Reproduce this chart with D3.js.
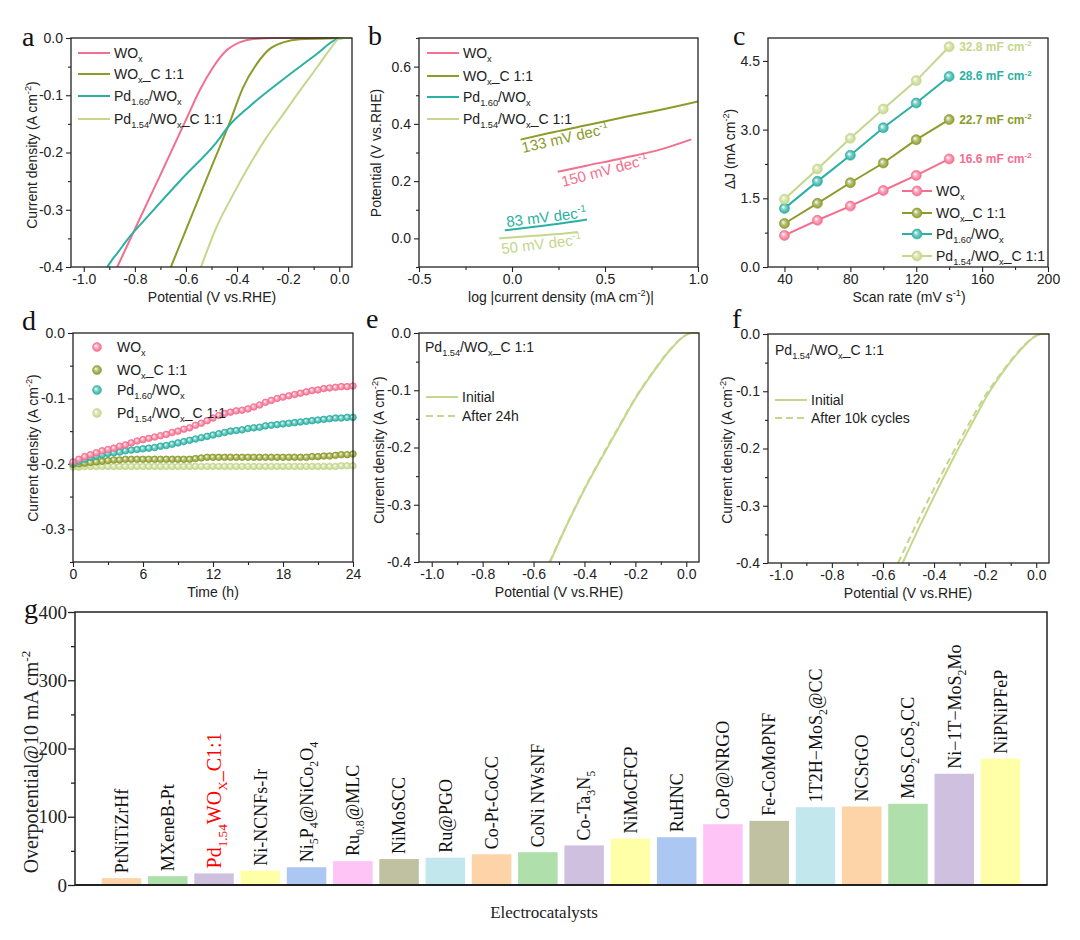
<!DOCTYPE html>
<html><head><meta charset="utf-8">
<script src="https://cdn.jsdelivr.net/npm/d3@7"></script>
<style>body{margin:0;background:#fff}</style>
</head><body>
<script>
// ---------------- DATA ----------------
const seriesNames = ["WO~{x}", "WO~{x}_C 1:1", "Pd~{1.60}/WO~{x}", "Pd~{1.54}/WO~{x}_C 1:1"];
// panel a : LSV  [potential V, current A cm-2]
const aWOx   = [[-0.869,-0.4],[-0.8,-0.334],[-0.7,-0.239],[-0.6,-0.143],[-0.547,-0.092],[-0.495,-0.052],[-0.442,-0.022],[-0.39,-0.0076],[-0.337,-0.0018],[-0.25,0],[0.05,0]];
const aWOxC  = [[-0.659,-0.4],[-0.6,-0.335],[-0.55,-0.28],[-0.5,-0.225],[-0.429,-0.148],[-0.377,-0.087],[-0.324,-0.046],[-0.272,-0.019],[-0.219,-0.0076],[-0.154,-0.002],[-0.02,-0.0005],[0.05,0]];
const aPd160 = [[-0.908,-0.4],[-0.885,-0.385],[-0.862,-0.372],[-0.836,-0.356],[-0.744,-0.309],[-0.613,-0.2445],[-0.482,-0.183],[-0.429,-0.152],[-0.35,-0.119],[-0.219,-0.072],[-0.088,-0.028],[-0.009,-0.002],[0.02,0],[0.05,0]];
const aPd154 = [[-0.541,-0.4],[-0.482,-0.332],[-0.416,-0.274],[-0.35,-0.221],[-0.285,-0.174],[-0.219,-0.133],[-0.154,-0.092],[-0.088,-0.052],[-0.035,-0.019],[-0.003,-0.002],[0.02,0],[0.05,0]];
// panel b : Tafel [log j, potential]
const bWOx   = [[0.246,0.233],[0.4,0.254],[0.6,0.281],[0.8,0.311],[0.964,0.346]];
const bWOxC  = [[0.046,0.345],[0.2,0.368],[0.4,0.395],[0.6,0.423],[0.8,0.449],[1.0,0.478]];
const bPd160 = [[-0.039,0.028],[0.1,0.039],[0.25,0.051],[0.403,0.066]];
const bPd154 = [[-0.07,0.0],[0.1,0.008],[0.25,0.015],[0.353,0.022]];
const tafelLabels = ["150 mV dec^{-1}", "133 mV dec^{-1}", "83 mV dec^{-1}", "50 mV dec^{-1}"];
// panel c : Cdl
const cScan  = [40, 60, 80, 100, 120, 140];
const cWOx   = [0.69, 1.02, 1.33, 1.67, 2.00, 2.36];
const cWOxC  = [0.95, 1.39, 1.84, 2.27, 2.78, 3.22];
const cPd160 = [1.28, 1.87, 2.44, 3.04, 3.58, 4.16];
const cPd154 = [1.48, 2.14, 2.81, 3.45, 4.07, 4.81];
const cdlLabels = ["16.6 mF cm^{-2}", "22.7 mF cm^{-2}", "28.6 mF cm^{-2}", "32.8 mF cm^{-2}"];
// panel d : stability (time h, current A cm-2)
const dTime  = [0,0.5,1,1.5,2,2.5,3,3.5,4,4.5,5,5.5,6,6.5,7,7.5,8,8.5,9,9.5,10,10.5,11,11.5,12,12.5,13,13.5,14,14.5,15,15.5,16,16.5,17,17.5,18,18.5,19,19.5,20,20.5,21,21.5,22,22.5,23,23.5,24];
const dWOx   = [-0.197,-0.193,-0.189,-0.186,-0.183,-0.180,-0.178,-0.176,-0.173,-0.171,-0.168,-0.165,-0.163,-0.161,-0.159,-0.157,-0.155,-0.152,-0.150,-0.147,-0.145,-0.141,-0.138,-0.134,-0.130,-0.126,-0.123,-0.121,-0.119,-0.118,-0.116,-0.113,-0.110,-0.106,-0.103,-0.100,-0.098,-0.096,-0.094,-0.092,-0.090,-0.088,-0.087,-0.085,-0.084,-0.083,-0.082,-0.082,-0.081];
const dWOxC  = [-0.201,-0.200,-0.199,-0.198,-0.197,-0.196,-0.195,-0.194,-0.194,-0.193,
                -0.193,-0.193,-0.193,-0.193,-0.193,-0.193,-0.193,-0.193,-0.193,-0.193,-0.193,
                -0.192,-0.191,
                -0.190,-0.190,-0.190,-0.190,-0.190,-0.190,-0.190,-0.190,-0.190,-0.190,-0.190,-0.190,-0.190,-0.190,-0.190,-0.190,-0.190,-0.190,
                -0.189,-0.189,-0.188,-0.188,-0.187,-0.186,-0.186,-0.185];
const dPd160 = [-0.199,-0.196,-0.193,-0.190,-0.188,-0.186,-0.184,-0.183,-0.182,-0.180,-0.179,-0.178,-0.177,-0.176,-0.175,-0.173,-0.172,-0.170,-0.168,-0.166,-0.164,-0.162,-0.160,-0.158,-0.156,-0.154,-0.152,-0.150,-0.149,-0.148,-0.146,-0.145,-0.144,-0.142,-0.141,-0.140,-0.139,-0.138,-0.137,-0.136,-0.135,-0.134,-0.133,-0.132,-0.131,-0.130,-0.130,-0.129,-0.129];
const dPd154 = [-0.205,-0.205,-0.204,-0.204,-0.204,-0.204,-0.204,-0.204,-0.204,-0.204,-0.204,-0.204,-0.204,-0.204,-0.204,-0.204,-0.204,-0.204,-0.204,-0.204,-0.204,-0.204,-0.204,-0.204,-0.204,-0.204,-0.204,-0.204,-0.204,-0.204,-0.204,-0.204,-0.204,-0.204,-0.204,-0.204,-0.204,-0.204,-0.204,-0.204,-0.204,-0.204,-0.204,-0.204,-0.204,-0.204,-0.203,-0.203,-0.203];
// panel e : before / after 24 h
const eInitial = [[-0.535,-0.4],[-0.457,-0.324],[-0.391,-0.2655],[-0.326,-0.213],[-0.26,-0.161],[-0.195,-0.111],[-0.129,-0.068],[-0.064,-0.03],[-0.011,-0.0065],[0.02,0],[0.05,0]];
const eAfter   = [[-0.537,-0.4],[-0.46,-0.326],[-0.393,-0.266],[-0.327,-0.212],[-0.262,-0.161],[-0.197,-0.111],[-0.131,-0.068],[-0.066,-0.03],[-0.012,-0.0065],[0.02,0],[0.05,0]];
// panel f : before / after 10k cycles
const fInitial = [[-0.523,-0.4],[-0.45,-0.33],[-0.38,-0.266],[-0.32,-0.213],[-0.25,-0.155],[-0.19,-0.106],[-0.125,-0.063],[-0.06,-0.027],[-0.01,-0.006],[0.02,0],[0.05,0]];
const fAfter   = [[-0.541,-0.4],[-0.47,-0.333],[-0.4,-0.27],[-0.335,-0.215],[-0.265,-0.158],[-0.2,-0.108],[-0.13,-0.064],[-0.065,-0.028],[-0.012,-0.006],[0.02,0],[0.05,0]];
// panel g : overpotential comparison
const gNames  = ["PtNiTiZrHf","MXeneB-Pt","Pd~{1.54}WO~{X}_C1:1","Ni-NCNFs-Ir","Ni~{5}P~{4}@NiCo~{2}O~{4}","Ru~{0.8}@MLC","NiMoSCC","Ru@PGO","Co-Pt-CoCC","CoNi NWsNF","Co-Ta~{3}N~{5}","NiMoCFCP","RuHNC","CoP@NRGO","Fe-CoMoPNF","1T2H\u2212MoS~{2}@CC","NCSrGO","MoS~{2}CoS~{2}CC","Ni\u22121T\u2212MoS~{2}Mo","NiPNiPFeP"];
const gValues = [10, 13, 17, 21, 26, 35, 38, 40, 45, 48, 58, 68, 70, 89, 94, 114, 115, 119, 163, 185];
const gColors = ["#fdd3a8","#afdfab","#cfc0df","#ffffa8","#abc7f2","#ffc4f6","#c0c1a1","#c2e8ee"];
const gTicks  = [0,100,200,300,400];
const gMinor  = [50,150,250,350];

// ---------------- SETUP ----------------
const W=1080, H=940;
const SANS="'Liberation Sans', Arial, sans-serif";
const SERIF="'Liberation Serif', 'Times New Roman', serif";
const COL={pink:"#f36f8f", olive:"#8c9b2a", teal:"#2bb0a3", light:"#c4d78b"};
const colList=[COL.pink,COL.olive,COL.teal,COL.light];
const svg=d3.select("body").append("svg").attr("width",W).attr("height",H).style("background","#fff");
const defs=svg.append("defs");
Object.entries(COL).forEach(([k,c])=>{
  const g=defs.append("radialGradient").attr("id","ball-"+k).attr("cx","50%").attr("cy","50%").attr("r","50%").attr("fx","35%").attr("fy","35%");
  g.append("stop").attr("offset","0%").attr("stop-color","#ffffff");
  g.append("stop").attr("offset","45%").attr("stop-color",d3.interpolateRgb("#ffffff",c)(0.6));
  g.append("stop").attr("offset","100%").attr("stop-color",c);
});
const ballId=["ball-pink","ball-olive","ball-teal","ball-light"];

function addRich(parent,str,size){
  const parts=str.split(/(~\{[^}]*\}|\^\{[^}]*\})/).filter(s=>s.length);
  let cur=0;
  parts.forEach(p=>{
    let t=p, mode=0;
    if(p.startsWith("~{")){t=p.slice(2,-1);mode=1;}
    else if(p.startsWith("^{")){t=p.slice(2,-1);mode=-1;}
    const target= mode===1? size*0.28 : mode===-1? -size*0.4 : 0;
    const ts=parent.append("tspan").attr("font-size", mode? size*0.66 : size).text(t);
    if(target!==cur) ts.attr("dy", target-cur);
    cur=target;
  });
}
function label(x,y,str,o={}){
  const size=o.size||14;
  const t=svg.append("text").attr("transform",`translate(${x},${y}) rotate(${o.rotate||0})`)
    .attr("text-anchor",o.anchor||"start").attr("font-family",o.family||SANS)
    .attr("font-size",size).attr("fill",o.fill||"#222").attr("font-weight",o.weight||"normal");
  addRich(t,str,size);
  return t;
}
const fmt1=v=>v.toFixed(1);
let clipN=0;
function mkPanel(p){
  const x=d3.scaleLinear().domain(p.xd).range([p.x0,p.x1]);
  const y=d3.scaleLinear().domain(p.yd).range([p.y1,p.y0]);
  const g=svg.append("g");
  const style=s=>{s.select(".domain").remove();
    s.selectAll("line").attr("stroke","#222").attr("stroke-width",1.1);
    s.selectAll("text").attr("font-family",SANS).attr("font-size",14).attr("fill","#222");};
  g.append("g").attr("transform",`translate(0,${p.y1})`).call(d3.axisBottom(x).tickValues(p.xMinor).tickSize(3).tickFormat(()=>"")).call(style);
  g.append("g").attr("transform",`translate(0,${p.y1})`).call(d3.axisBottom(x).tickValues(p.xMajor).tickSize(5).tickPadding(2).tickFormat(p.fx)).call(style);
  g.append("g").attr("transform",`translate(${p.x0},0)`).call(d3.axisLeft(y).tickValues(p.yMinor).tickSize(3).tickFormat(()=>"")).call(style);
  g.append("g").attr("transform",`translate(${p.x0},0)`).call(d3.axisLeft(y).tickValues(p.yMajor).tickSize(5).tickPadding(3).tickFormat(p.fy)).call(style);
  const id="clip"+(++clipN);
  defs.append("clipPath").attr("id",id).append("rect").attr("x",p.x0).attr("y",p.y0-2).attr("width",p.x1-p.x0).attr("height",p.y1-p.y0+4);
  const plot=svg.append("g").attr("clip-path",`url(#${id})`);
  const free=svg.append("g");
  svg.append("rect").attr("x",p.x0).attr("y",p.y0).attr("width",p.x1-p.x0).attr("height",p.y1-p.y0)
    .attr("fill","none").attr("stroke","#222").attr("stroke-width",1.3);
  return {x,y,plot,free};
}
function drawLine(P,data,color,dash){
  P.plot.append("path").datum(data).attr("fill","none").attr("stroke",color).attr("stroke-width",2)
    .attr("stroke-dasharray",dash||null)
    .attr("d",d3.line().x(d=>P.x(d[0])).y(d=>P.y(d[1])).curve(d3.curveMonotoneX));
}
function legendLine(x1,x2,y,color,txt,dash){
  svg.append("line").attr("x1",x1).attr("x2",x2).attr("y1",y).attr("y2",y).attr("stroke",color).attr("stroke-width",2).attr("stroke-dasharray",dash||null);
  label(x2+4,y+5,txt,{size:14});
}
function letter(x,y,t){label(x,y,t,{size:28,family:SERIF,fill:"#111"});}

const lsvAxes={xd:[-1.05,0.05], yd:[-0.4,0], xMajor:[-1,-0.8,-0.6,-0.4,-0.2,0], xMinor:[-0.9,-0.7,-0.5,-0.3,-0.1], yMajor:[0,-0.1,-0.2,-0.3,-0.4], yMinor:[-0.05,-0.15,-0.25,-0.35], fx:fmt1, fy:fmt1};

// ---------------- PANEL a ----------------
{
  const P=mkPanel(Object.assign({x0:71,x1:352,y0:38,y1:267},lsvAxes));
  [aWOx,aWOxC,aPd160,aPd154].forEach((d,i)=>drawLine(P,d,colList[i]));
  [53,74,96,119].forEach((yy,i)=>legendLine(78,110,yy,colList[i],seriesNames[i]));
  label(212,302,"Potential (V vs.RHE)",{anchor:"middle"});
  label(37,155,"Current density (A cm^{-2})",{anchor:"middle",rotate:-90});
  letter(22,46,"a");
}
// ---------------- PANEL b ----------------
{
  const P=mkPanel({x0:419,x1:698,y0:38,y1:267,xd:[-0.5,1.0],yd:[-0.1,0.7],xMajor:[-0.5,0,0.5,1.0],xMinor:[-0.25,0.25,0.75],yMajor:[0,0.2,0.4,0.6],yMinor:[-0.1,0.1,0.3,0.5,0.7],fx:fmt1,fy:fmt1});
  [bWOx,bWOxC,bPd160,bPd154].forEach((d,i)=>drawLine(P,d,colList[i]));
  [53,76,97,119].forEach((yy,i)=>legendLine(427,459,yy,colList[i],seriesNames[i]));
  label(563,187,tafelLabels[0],{fill:COL.pink,size:15,rotate:-15});
  label(523,153,tafelLabels[1],{fill:COL.olive,size:15,rotate:-13});
  label(507,227,tafelLabels[2],{fill:COL.teal,size:15,rotate:-7});
  label(502,254,tafelLabels[3],{fill:COL.light,size:15,rotate:-7});
  label(561,302,"log |current density (mA cm^{-2})|",{anchor:"middle"});
  label(381,153,"Potential (V vs.RHE)",{anchor:"middle",rotate:-90});
  letter(368,45,"b");
}
// ---------------- PANEL c ----------------
{
  const P=mkPanel({x0:768,x1:1048,y0:38,y1:267,xd:[30,200],yd:[0,5],xMajor:[40,80,120,160,200],xMinor:[60,100,140,180],yMajor:[0,1.5,3.0,4.5],yMinor:[0.75,2.25,3.75],fx:d=>d,fy:fmt1});
  [cWOx,cWOxC,cPd160,cPd154].forEach((vals,i)=>{
    const data=cScan.map((s,j)=>[s,vals[j]]);
    P.free.append("path").datum(data).attr("fill","none").attr("stroke",colList[i]).attr("stroke-width",2)
      .attr("d",d3.line().x(d=>P.x(d[0])).y(d=>P.y(d[1])));
    P.free.selectAll(null).data(data).join("circle").attr("cx",d=>P.x(d[0])).attr("cy",d=>P.y(d[1])).attr("r",5)
      .attr("fill",`url(#${ballId[i]})`).attr("stroke",colList[i]).attr("stroke-width",0.6);
    const last=data[data.length-1];
    label(P.x(last[0])+10,P.y(last[1])+4,cdlLabels[i],{fill:colList[i],size:12,weight:"bold"});
  });
  [191,213,234,256].forEach((yy,i)=>{
    svg.append("line").attr("x1",902).attr("x2",932).attr("y1",yy).attr("y2",yy).attr("stroke",colList[i]).attr("stroke-width",2);
    svg.append("circle").attr("cx",917).attr("cy",yy).attr("r",5).attr("fill",`url(#${ballId[i]})`).attr("stroke",colList[i]).attr("stroke-width",0.6);
    label(936,yy+5,seriesNames[i],{size:14});
  });
  label(909,302,"Scan rate (mV s^{-1})",{anchor:"middle"});
  label(735,149,"\u0394J (mA cm^{-2})",{anchor:"middle",rotate:-90});
  letter(733,45,"c");
}
// ---------------- PANEL d ----------------
{
  const P=mkPanel({x0:73,x1:353,y0:333,y1:562,xd:[0,24],yd:[-0.35,0],xMajor:[0,6,12,18,24],xMinor:[3,9,15,21],yMajor:[0,-0.1,-0.2,-0.3],yMinor:[-0.05,-0.15,-0.25,-0.35],fx:d=>d,fy:fmt1});
  [dPd154,dWOxC,dPd160,dWOx].forEach((vals,k)=>{
    const i=[3,1,2,0][k];
    P.free.selectAll(null).data(dTime.map((t,j)=>[t,vals[j]])).join("circle")
      .attr("cx",d=>P.x(d[0])).attr("cy",d=>P.y(d[1])).attr("r",3.3)
      .attr("fill",`url(#${ballId[i]})`).attr("stroke",colList[i]).attr("stroke-width",0.8);
  });
  [347,370,390,413].forEach((yy,i)=>{
    svg.append("circle").attr("cx",97).attr("cy",yy).attr("r",4.5).attr("fill",`url(#${ballId[i]})`).attr("stroke",colList[i]).attr("stroke-width",0.5);
    label(117,yy+5,seriesNames[i],{size:14});
  });
  label(213,597,"Time (h)",{anchor:"middle"});
  label(38,448,"Current density (A cm^{-2})",{anchor:"middle",rotate:-90});
  letter(22,330,"d");
}
// ---------------- PANEL e ----------------
{
  const P=mkPanel(Object.assign({x0:419,x1:699,y0:333,y1:562},lsvAxes));
  drawLine(P,eInitial,COL.light);
  drawLine(P,eAfter,COL.light,"7,4");
  label(425,352,seriesNames[3],{size:14});
  legendLine(426,458,397,COL.light,"Initial");
  legendLine(426,458,416,COL.light,"After 24h","7,4");
  label(559,597,"Potential (V vs.RHE)",{anchor:"middle"});
  label(384,450,"Current density (A cm^{-2})",{anchor:"middle",rotate:-90});
  letter(366,328,"e");
}
// ---------------- PANEL f ----------------
{
  const P=mkPanel(Object.assign({x0:768,x1:1049,y0:334,y1:563},lsvAxes));
  drawLine(P,fInitial,COL.light);
  drawLine(P,fAfter,COL.light,"7,4");
  label(775,355,seriesNames[3],{size:14});
  legendLine(775,807,400,COL.light,"Initial");
  legendLine(775,807,418,COL.light,"After 10k cycles","7,4");
  label(908,598,"Potential (V vs.RHE)",{anchor:"middle"});
  label(732,450,"Current density (A cm^{-2})",{anchor:"middle",rotate:-90});
  letter(732,328,"f");
}
// ---------------- PANEL g ----------------
{
  const x0=75,x1=1047,y0=612,y1=885;
  const x=d3.scaleBand().domain(gNames.map((d,i)=>i)).range([x0,x1]).paddingInner(0.146).paddingOuter(0.578);
  const y=d3.scaleLinear().domain([0,400]).range([y1,y0]);
  const style=s=>{s.select(".domain").remove();
    s.selectAll("line").attr("stroke","#222").attr("stroke-width",1.3);
    s.selectAll("text").attr("font-family",SERIF).attr("font-size",19).attr("fill","#222");};
  svg.append("g").attr("transform",`translate(${x0},0)`).call(d3.axisLeft(y).tickValues(gMinor).tickSize(4).tickFormat(()=>"")).call(style);
  svg.append("g").attr("transform",`translate(${x0},0)`).call(d3.axisLeft(y).tickValues(gTicks).tickSize(7).tickPadding(1)).call(style);
  svg.append("g").selectAll("rect").data(gValues).join("rect")
    .attr("x",(d,i)=>x(i)).attr("width",x.bandwidth()).attr("y",d=>y(d)).attr("height",d=>y1-y(d))
    .attr("fill",(d,i)=>gColors[i%gColors.length]);
  gNames.forEach((n,i)=>{
    const red=i===2, size=red?20:18;
    label(x(i)+x.bandwidth()/2+size*0.35, y(gValues[i])-5, n, {size, family:SERIF, rotate:-90, fill:red?"#ff0000":"#111"});
  });
  svg.append("rect").attr("x",x0).attr("y",y0).attr("width",x1-x0).attr("height",y1-y0).attr("fill","none").attr("stroke","#222").attr("stroke-width",1.5);
  svg.append("line").attr("x1",x0).attr("x2",x1).attr("y1",y1).attr("y2",y1).attr("stroke","#222").attr("stroke-width",2.2);
  label(38,762,"Overpotential@10 mA cm^{-2}",{anchor:"middle",rotate:-90,family:SERIF,size:20});
  label(544,918,"Electrocatalysts",{anchor:"middle",family:SERIF,size:17});
  letter(24,618,"g");
}
</script>
</body></html>
